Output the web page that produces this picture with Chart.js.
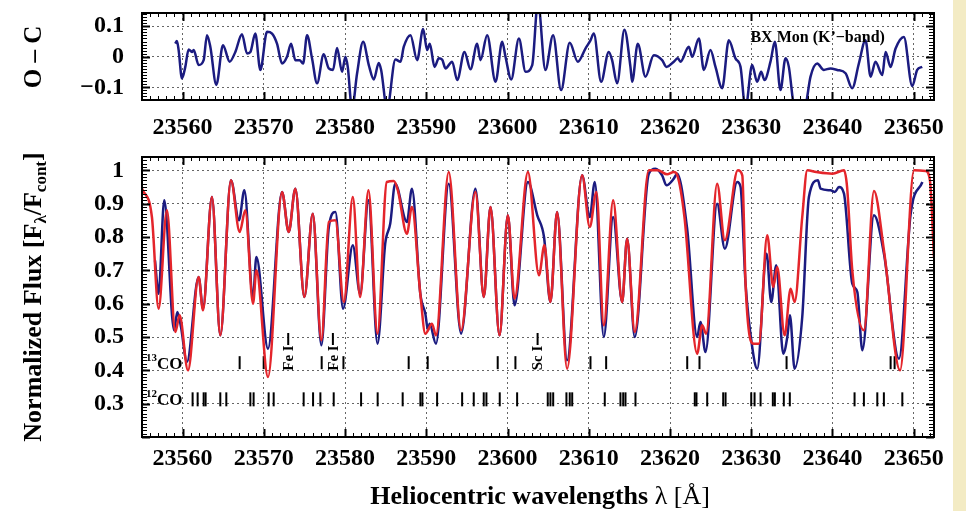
<!DOCTYPE html>
<html>
<head>
<meta charset="utf-8">
<script src="https://cdn.jsdelivr.net/npm/chart.js@4.4.0/dist/chart.umd.min.js"></script>
<style>
html, body { margin: 0; padding: 0; background: #fff; }
body { width: 966px; height: 511px; position: relative; overflow: hidden; }
#strip { position: absolute; left: 953px; top: 0; width: 13px; height: 511px; background: #f3ebc4; }
#topBox { position: absolute; left: 0; top: 0; }
#botBox { position: absolute; left: 0; top: 140px; }
</style>
</head>
<body>
<div id="strip"></div>
<div id="topBox"><canvas id="ocChart" width="966" height="140"></canvas></div>
<div id="botBox"><canvas id="fluxChart" width="966" height="371"></canvas></div>
<script>
// axis ticks
const waveTicks = [23560, 23570, 23580, 23590, 23600, 23610, 23620, 23630, 23640, 23650];
const ocTicks = [-0.1, 0, 0.1];
const ocTickLabels = ['\u22120.1', '0', '0.1'];
const fluxTicks = [0.3, 0.4, 0.5, 0.6, 0.7, 0.8, 0.9, 1.0];
const fluxTickLabels = ['0.3', '0.4', '0.5', '0.6', '0.7', '0.8', '0.9', '1'];

// O - C residuals
const ocWave = [23559.10, 23559.30, 23559.51, 23559.92, 23560.33, 23560.74, 23561.15, 23561.36, 23561.97, 23562.59,
  23563.00, 23563.41, 23564.15, 23564.97, 23565.79, 23566.49, 23567.31, 23567.93, 23568.34, 23568.95,
  23569.57, 23570.39, 23571.01, 23571.62, 23572.24, 23572.85, 23573.35, 23573.88, 23574.41, 23574.83,
  23575.32, 23575.93, 23576.55, 23577.37, 23577.99, 23578.52, 23579.01, 23579.63, 23580.04, 23580.33,
  23580.86, 23581.48, 23582.22, 23582.92, 23583.53, 23584.15, 23584.44, 23585.17, 23586.20, 23586.82,
  23587.23, 23588.05, 23588.87, 23589.61, 23590.10, 23590.43, 23591.01, 23591.54, 23591.95, 23592.36,
  23593.18, 23593.80, 23594.70, 23595.44, 23596.26, 23596.67, 23597.49, 23598.52, 23599.34, 23599.75,
  23600.45, 23601.40, 23602.22, 23603.04, 23603.74, 23604.66, 23605.61, 23606.59, 23607.66, 23608.65,
  23609.59, 23610.21, 23610.62, 23611.52, 23612.46, 23612.87, 23613.49, 23614.39, 23615.13, 23615.34,
  23616.03, 23616.98, 23618.00, 23619.03, 23619.56, 23620.47, 23620.96, 23621.29, 23622.32, 23622.73,
  23623.55, 23624.17, 23624.98, 23625.60, 23626.42, 23627.24, 23628.06, 23628.68, 23629.29, 23630.11,
  23630.73, 23631.22, 23631.63, 23632.37, 23632.91, 23633.60, 23634.22, 23634.63, 23635.25, 23635.86,
  23636.68, 23637.30, 23638.12, 23638.94, 23639.76, 23640.58, 23641.61, 23642.43, 23643.25, 23644.07,
  23644.69, 23645.30, 23646.13, 23646.54, 23647.15, 23647.77, 23648.79, 23649.82, 23650.43, 23651.05];
const ocVal = [0.043, 0.052, 0.022, -0.071, -0.033, 0.024, 0.016, 0.022, -0.027, -0.011,
  0.071, 0.033, -0.092, 0.038, -0.016, 0.016, 0.074, 0.011, 0.016, 0.076,
  -0.043, 0.082, 0.076, 0.043, -0.022, 0.0, 0.043, -0.011, -0.011, -0.022,
  0.071, -0.005, -0.087, 0.008, -0.038, -0.043, 0.029, -0.049, 0.0, -0.033,
  -0.17, -0.054, 0.049, -0.027, -0.074, -0.020, -0.043, -0.17, -0.009, -0.016,
  0.033, 0.071, -0.011, 0.091, 0.022, 0.043, -0.033, -0.005, -0.009, -0.038,
  -0.016, -0.076, 0.016, -0.041, 0.043, -0.011, 0.071, -0.082, 0.049, 0.0,
  -0.074, 0.060, -0.049, -0.027, 0.18, -0.043, 0.071, -0.109, 0.046, -0.016,
  0.027, 0.054, 0.076, -0.082, 0.016, -0.011, -0.087, 0.089, -0.033, -0.082,
  0.043, -0.065, 0.005, -0.011, -0.033, -0.016, -0.005, -0.016, 0.033, 0.0,
  0.060, -0.043, 0.022, -0.033, -0.103, 0.054, -0.005, -0.033, -0.17, -0.027,
  -0.082, -0.049, -0.076, -0.016, 0.049, -0.109, -0.005, -0.033, -0.16, -0.18,
  -0.16, -0.065, -0.022, -0.043, -0.038, -0.043, -0.054, -0.103, -0.022, 0.054,
  -0.065, -0.016, -0.060, 0.016, -0.033, 0.027, 0.065, -0.096, -0.043, -0.033];

// observed spectrum (blue)
const obsWave = [23556.6, 23557.04, 23557.74, 23558.95, 23559.35, 23559.8, 23560.53, 23561.97, 23562.51, 23563.61,
  23564.64, 23565.95, 23566.94, 23567.60, 23568.67, 23569.08, 23570.51, 23572.24, 23573.06, 23573.88,
  23574.99, 23576.02, 23577.08, 23578.0, 23578.81, 23579.75, 23580.95, 23581.85, 23582.88, 23583.99,
  23584.94, 23585.56, 23586.17, 23587.61, 23588.23, 23589.26, 23589.88, 23590.21, 23590.41, 23591.19,
  23592.76, 23594.28, 23596.05, 23597.08, 23597.90, 23599.01, 23600.04, 23600.86, 23602.51, 23603.66,
  23604.49, 23605.28, 23606.10, 23607.33, 23609.18, 23610.12, 23610.74, 23611.85, 23613.00, 23614.11,
  23614.72, 23615.66, 23617.39, 23618.21, 23619.03, 23619.56, 23620.47, 23620.88, 23622.11, 23623.34,
  23623.75, 23624.37, 23625.80, 23626.75, 23628.27, 23628.69, 23629.30, 23630.12, 23630.74, 23631.89,
  23632.46, 23633.08, 23633.94, 23634.44, 23634.76, 23635.34, 23636.28, 23637.10, 23638.21, 23638.54,
  23639.77, 23640.30, 23640.80, 23641.42, 23642.44, 23643.06, 23643.68, 23645.11, 23646.34, 23648.19,
  23649.63, 23651.07];
const obsFlux = [0.73, 0.63, 0.91, 0.52, 0.575, 0.53, 0.425, 0.68, 0.585, 0.92,
  0.505, 0.97, 0.85, 0.94, 0.62, 0.74, 0.465, 0.935, 0.815, 0.945,
  0.62, 0.87, 0.475, 0.83, 0.875, 0.585, 0.775, 0.63, 0.91, 0.48,
  0.78, 0.84, 0.96, 0.845, 0.945, 0.63, 0.57, 0.52, 0.54, 0.48,
  0.96, 0.51, 0.945, 0.62, 0.89, 0.505, 0.865, 0.595, 0.965, 0.865,
  0.80, 0.605, 0.875, 0.43, 0.985, 0.86, 0.965, 0.50, 0.86, 0.605,
  0.795, 0.50, 0.99, 1.005, 0.985, 0.955, 0.975, 0.99, 0.825, 0.50,
  0.545, 0.455, 0.90, 0.765, 0.965, 0.95, 0.66, 0.47, 0.405, 0.75,
  0.605, 0.715, 0.45, 0.50, 0.565, 0.405, 0.56, 0.92, 0.97, 0.945,
  0.94, 0.935, 0.95, 0.93, 0.66, 0.635, 0.46, 0.865, 0.75, 0.435,
  0.87, 0.965];

// synthetic spectrum (red)
const synWave = [23555.0, 23556.22, 23557.04, 23558.07, 23559.10, 23559.63, 23560.66, 23561.97, 23562.51, 23563.61,
  23564.64, 23565.95, 23567.02, 23567.72, 23568.67, 23569.08, 23570.51, 23572.24, 23573.06, 23573.88,
  23574.99, 23576.02, 23577.08, 23578.00, 23578.80, 23579.85, 23580.95, 23581.85, 23582.88, 23583.99,
  23585.14, 23586.00, 23586.50, 23587.61, 23588.23, 23589.26, 23589.88, 23590.70, 23591.19, 23592.76,
  23594.28, 23596.05, 23597.08, 23597.90, 23599.01, 23600.04, 23600.86, 23602.51, 23603.87, 23604.54,
  23605.28, 23606.10, 23607.33, 23609.18, 23610.12, 23610.94, 23611.85, 23613.00, 23614.11, 23614.72,
  23615.66, 23617.39, 23618.50, 23619.65, 23620.47, 23620.90, 23621.78, 23623.34, 23623.96, 23624.45,
  23625.80, 23626.75, 23628.35, 23628.90, 23629.30, 23629.92, 23630.30, 23630.94, 23631.97, 23632.71,
  23633.20, 23634.11, 23634.85, 23635.34, 23636.28, 23636.90, 23638.00, 23640.00, 23641.42, 23641.80,
  23642.44, 23643.88, 23645.11, 23646.34, 23648.32, 23650.04, 23651.48, 23652.00, 23652.50];
const synFlux = [0.945, 0.86, 0.585, 0.88, 0.515, 0.565, 0.40, 0.68, 0.58, 0.92,
  0.505, 0.97, 0.815, 0.88, 0.60, 0.70, 0.38, 0.935, 0.815, 0.945,
  0.62, 0.87, 0.49, 0.845, 0.85, 0.605, 0.92, 0.62, 0.94, 0.51,
  0.965, 0.968, 0.94, 0.81, 0.89, 0.63, 0.51, 0.54, 0.505, 0.995,
  0.52, 0.935, 0.62, 0.89, 0.505, 0.865, 0.615, 0.995, 0.685, 0.775,
  0.605, 0.875, 0.405, 0.985, 0.83, 0.935, 0.535, 0.91, 0.605, 0.795,
  0.515, 1.0, 1.0, 0.988, 0.995, 0.985, 0.86, 0.45, 0.535, 0.51,
  0.96, 0.79, 1.0, 0.985, 0.66, 0.49, 0.48, 0.48, 0.805, 0.65,
  0.71, 0.505, 0.645, 0.605, 0.86, 1.0, 0.995, 0.99, 1.0, 0.95,
  0.70, 0.52, 0.938, 0.76, 0.40, 1.0, 0.998, 0.97, 0.74];

// line identifications
const co13Lines = [23567.02, 23569.98, 23577.12, 23579.80, 23587.83, 23590.17, 23598.79, 23600.97,
  23610.21, 23612.14, 23622.12, 23623.63, 23634.35, 23647.16, 23647.65];
const co12Lines = [23561.23, 23561.85, 23562.59, 23562.83, 23564.64, 23565.38, 23568.34, 23568.74,
  23570.59, 23571.21, 23574.90, 23576.06, 23576.96, 23578.60, 23581.97, 23584.01, 23587.09,
  23589.27, 23589.52, 23591.33, 23594.41, 23595.84, 23597.07, 23597.40, 23599.04, 23601.18,
  23604.95, 23605.28, 23605.62, 23607.25, 23607.66, 23607.96, 23611.97, 23613.90, 23614.24,
  23614.52, 23615.75, 23623.05, 23623.26, 23624.58, 23626.55, 23626.84, 23630.00, 23630.41,
  23631.15, 23632.66, 23632.91, 23634.01, 23634.75, 23642.72, 23643.87, 23645.52, 23646.33, 23648.60];
const atomLines = [23573.0, 23578.5, 23603.7];
const atomNames = ['Fe I', 'Fe I', 'Sc I'];

const waveMin = 23555, waveMax = 23652.5;
const co13Row = 0.423, co12Row = 0.313, atomTickRow = 0.494, atomTextRow = 0.437;

const SERIF = "'Liberation Serif', 'Times New Roman', serif";
const NAVY = '#1b1b80';
const RED = '#e4252b';
const tickFont = { family: SERIF, size: 24, weight: 'bold' };

const pts = (xs, ys) => xs.map((x, i) => ({ x: x, y: ys[i] }));
const rowPts = (xs, row) => xs.map(x => ({ x: x, y: row }));

// draws text made of pieces with different fonts / baseline shifts
function drawRich(ctx, segs, cx, cy, rot) {
  ctx.save();
  ctx.translate(cx, cy);
  ctx.rotate(rot);
  ctx.textAlign = 'left';
  ctx.textBaseline = 'alphabetic';
  ctx.fillStyle = '#000';
  let total = 0;
  segs.forEach(s => { ctx.font = s.font; s.w = ctx.measureText(s.text).width; total += s.w; });
  let x = -total / 2;
  segs.forEach(s => { ctx.font = s.font; ctx.fillText(s.text, x, s.dy || 0); x += s.w; });
  ctx.restore();
}

// box frame plus inward major/minor ticks
const frame = {
  id: 'frame',
  afterDatasetsDraw(chart, args, opts) {
    const { ctx, chartArea: a } = chart;
    const xs = chart.scales.x, ys = chart.scales.y;
    ctx.save();
    ctx.strokeStyle = '#000';
    const pass = (major) => {
      ctx.lineWidth = major ? 2 : 1;
      ctx.beginPath();
      for (let w = Math.ceil(xs.min); w <= xs.max; w++) {
        if ((w % 10 === 0) !== major) continue;
        const px = Math.round(xs.getPixelForValue(w)) + 0.5;
        const len = major ? 8 : 4;
        ctx.moveTo(px, a.bottom); ctx.lineTo(px, a.bottom - len);
        ctx.moveTo(px, a.top); ctx.lineTo(px, a.top + len);
      }
      const k0 = Math.ceil(ys.min / opts.yStep - 1e-6), k1 = Math.floor(ys.max / opts.yStep + 1e-6);
      for (let k = k0; k <= k1; k++) {
        if ((k % 10 === 0) !== major) continue;
        const py = Math.round(ys.getPixelForValue(k * opts.yStep)) + 0.5;
        const len = major ? 8 : 5;
        ctx.moveTo(a.left, py); ctx.lineTo(a.left + len, py);
        ctx.moveTo(a.right, py); ctx.lineTo(a.right - len, py);
      }
      ctx.stroke();
    };
    pass(false);
    pass(true);
    ctx.lineWidth = 2;
    ctx.strokeRect(a.left, a.top, a.width, a.height);
    ctx.restore();
  }
};

function waveAxis(height, pad) {
  return {
    type: 'linear', min: waveMin, max: waveMax,
    afterFit: s => { s.height = height; s.paddingLeft = 0; s.paddingRight = 0; },
    afterBuildTicks: s => { s.ticks = waveTicks.map(v => ({ value: v })); },
    ticks: { color: '#000', font: tickFont, padding: pad, maxRotation: 0, autoSkip: false, callback: v => String(v) },
    grid: { color: '#666', lineWidth: 1, drawTicks: false },
    border: { display: false, dash: [2, 3] }
  };
}

function valueAxis(min, max, ticks, labels) {
  return {
    min: min, max: max,
    afterFit: s => { s.width = 142; s.paddingTop = 0; s.paddingBottom = 0; },
    afterBuildTicks: s => { s.ticks = ticks.map(v => ({ value: v })); },
    ticks: { color: '#000', font: tickFont, padding: 18, callback: (v, i) => labels[i] },
    grid: { color: '#666', lineWidth: 1, drawTicks: false },
    border: { display: false, dash: [2, 3] }
  };
}

const ocLabels = {
  id: 'ocLabels',
  afterDraw(chart) {
    const { ctx } = chart;
    const xs = chart.scales.x, ys = chart.scales.y;
    drawRich(ctx, [{ text: 'O \u2013 C', font: 'bold 25px ' + SERIF }], 41, 57, -Math.PI / 2);
    ctx.save();
    ctx.font = 'bold 16px ' + SERIF;
    ctx.fillStyle = '#000';
    ctx.textBaseline = 'alphabetic';
    ctx.fillText('BX Mon (K\u2019\u2212band)', xs.getPixelForValue(23629.9), ys.getPixelForValue(0.049));
    ctx.restore();
  }
};

const ocChart = new Chart(document.getElementById('ocChart'), {
  type: 'line',
  data: {
    datasets: [{
      data: pts(ocWave, ocVal),
      borderColor: NAVY, borderWidth: 2.5, pointRadius: 0,
      cubicInterpolationMode: 'monotone', clip: 0
    }]
  },
  options: {
    responsive: false, animation: false, devicePixelRatio: 1,
    layout: { padding: { top: 13, right: 32, left: 0, bottom: 0 } },
    plugins: { legend: { display: false }, tooltip: { enabled: false }, frame: { yStep: 0.01 } },
    scales: {
      x: waveAxis(40, 13),
      y: valueAxis(-0.1415, 0.1435, ocTicks, ocTickLabels)
    }
  },
  plugins: [frame, ocLabels]
});

const fluxLabels = {
  id: 'fluxLabels',
  afterDraw(chart) {
    const { ctx, chartArea: a } = chart;
    const xs = chart.scales.x, ys = chart.scales.y;
    const big = 'bold 26px ' + SERIF, sub = 'bold 17px ' + SERIF;
    drawRich(ctx, [
      { text: 'Normalized Flux [F', font: big },
      { text: '\u03bb', font: sub, dy: 5 },
      { text: '/F', font: big },
      { text: 'cont', font: sub, dy: 5 },
      { text: ']', font: big }
    ], 41, 157, -Math.PI / 2);
    drawRich(ctx, [
      { text: 'Heliocentric wavelengths ', font: 'bold 26px ' + SERIF },
      { text: '\u03bb [\u00c5]', font: '26px ' + SERIF }
    ], 540, 364, 0);
    ctx.save();
    ctx.fillStyle = '#000';
    ctx.textBaseline = 'alphabetic';
    ctx.textAlign = 'left';
    [['13', co13Row], ['12', co12Row]].forEach(([iso, row]) => {
      const py = ys.getPixelForValue(row) + 6;
      ctx.font = 'bold 11px ' + SERIF;
      ctx.fillText(iso, a.left + 4, py - 8);
      ctx.font = 'bold 17px ' + SERIF;
      ctx.fillText('CO', a.left + 15, py);
    });
    ctx.font = 'bold 15px ' + SERIF;
    ctx.textAlign = 'center';
    ctx.textBaseline = 'middle';
    atomLines.forEach((w, i) => {
      ctx.save();
      ctx.translate(xs.getPixelForValue(w) + 1, ys.getPixelForValue(atomTextRow));
      ctx.rotate(-Math.PI / 2);
      ctx.fillText(atomNames[i], 0, 0);
      ctx.restore();
    });
    ctx.restore();
  }
};

const lineMark = (xs, row, r) => ({
  type: 'scatter', data: rowPts(xs, row), showLine: false,
  pointStyle: 'line', rotation: 90, pointRadius: r, pointHoverRadius: r,
  borderColor: '#000', borderWidth: 2, order: 2
});

const fluxChart = new Chart(document.getElementById('fluxChart'), {
  type: 'line',
  data: {
    datasets: [
      {
        data: pts(synWave, synFlux), borderColor: RED, borderWidth: 2.5, pointRadius: 0,
        cubicInterpolationMode: 'monotone', clip: 0, order: 0
      },
      {
        data: pts(obsWave, obsFlux), borderColor: NAVY, borderWidth: 2.5, pointRadius: 0,
        cubicInterpolationMode: 'monotone', clip: 0, order: 1
      },
      lineMark(co13Lines, co13Row, 6.5),
      lineMark(co12Lines, co12Row, 7),
      lineMark(atomLines, atomTickRow, 6)
    ]
  },
  options: {
    responsive: false, animation: false, devicePixelRatio: 1,
    layout: { padding: { top: 17, right: 32, left: 0, bottom: 0 } },
    plugins: { legend: { display: false }, tooltip: { enabled: false }, frame: { yStep: 0.01 } },
    scales: {
      x: waveAxis(74, 7),
      y: valueAxis(0.2, 1.04, fluxTicks, fluxTickLabels)
    }
  },
  plugins: [frame, fluxLabels]
});
</script>
</body>
</html>
